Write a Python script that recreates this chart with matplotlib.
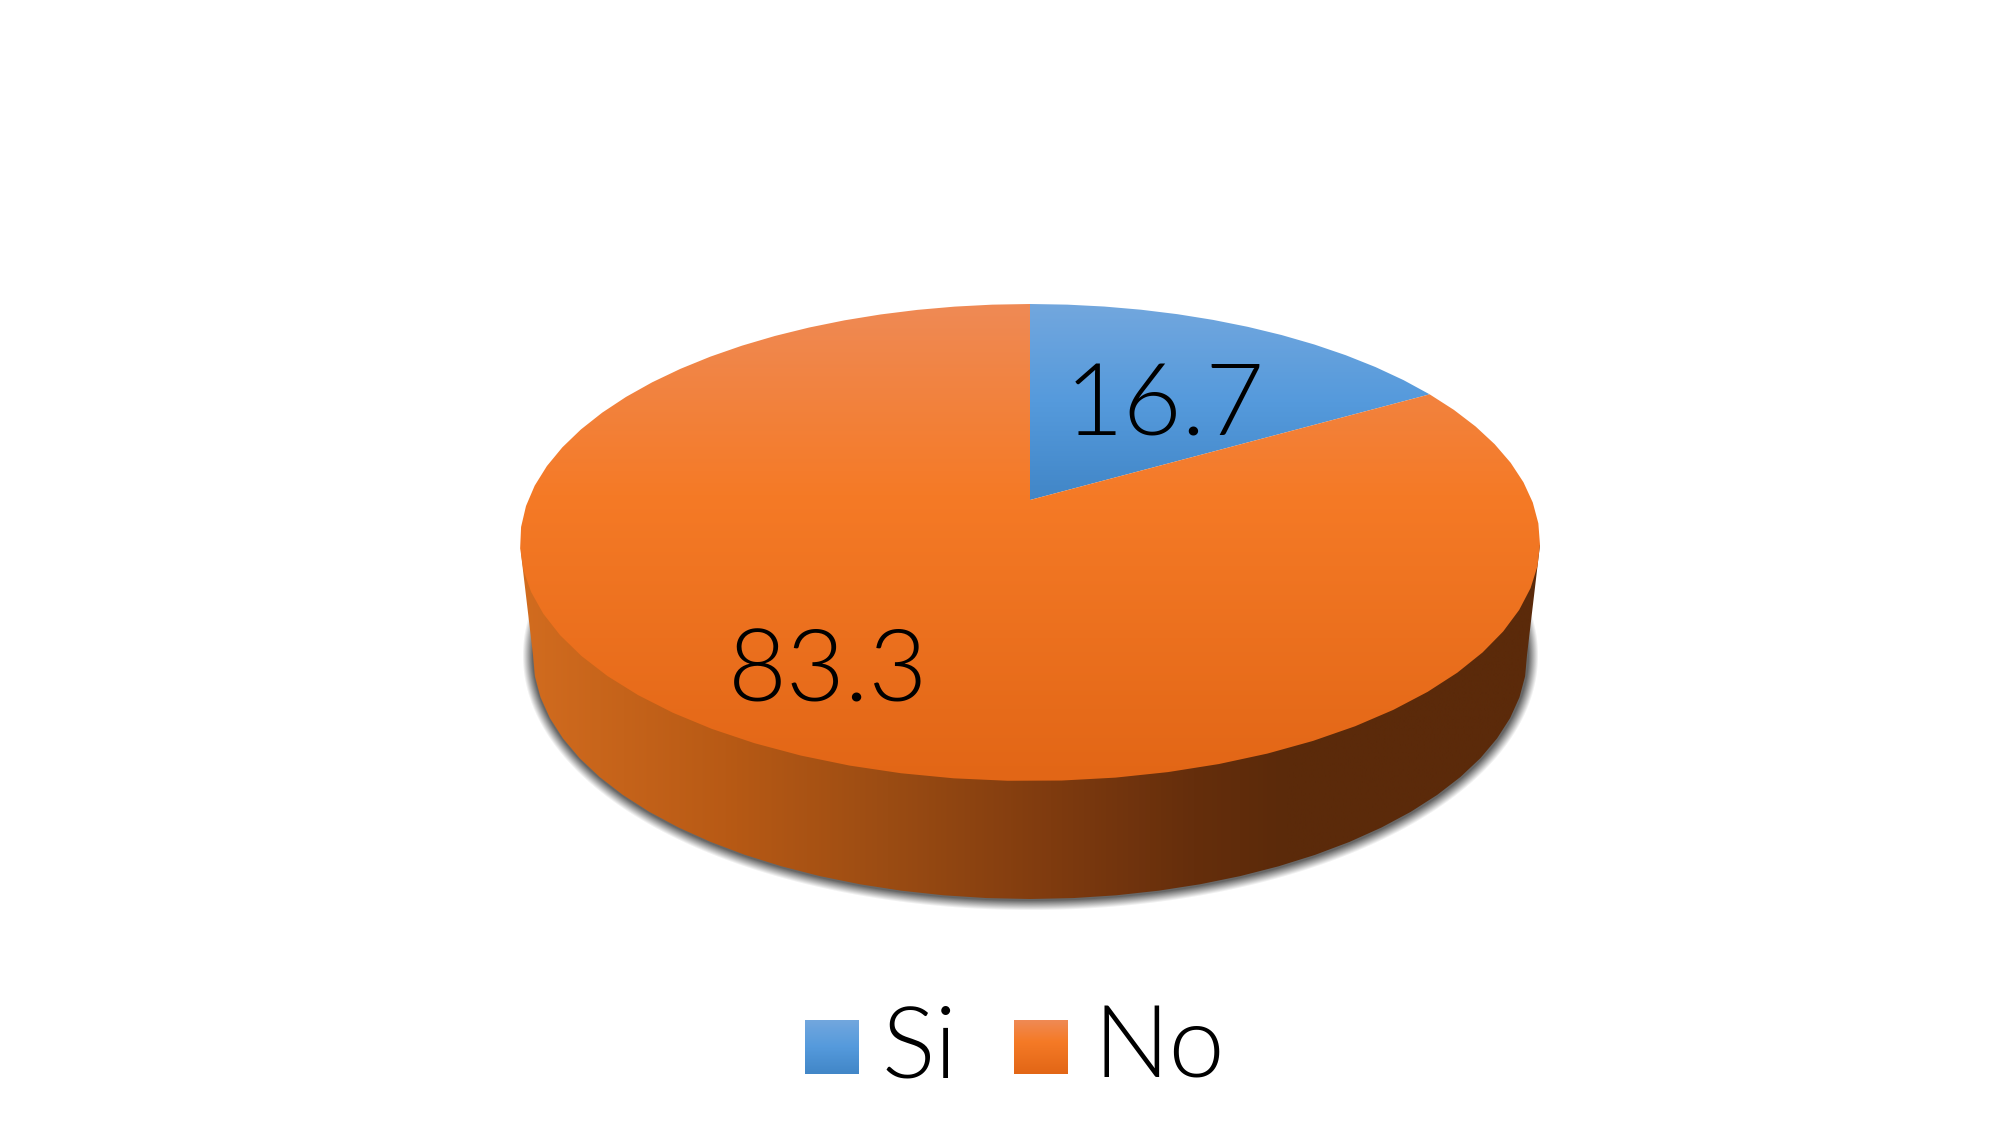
import numpy as np
import matplotlib
matplotlib.use("Agg")
import matplotlib.pyplot as plt
from matplotlib.colors import LinearSegmentedColormap
from matplotlib.patches import Polygon

categories = ["Si", "No"]
values = [16.7, 83.3]

plt.rcParams['font.family'] = ['Lato', 'DejaVu Sans']

# disc geometry in pixels, apex sits above the ellipse centre because of the perspective
cx, apex_y = 1030, 500
front, back = 281, 196
half_w = 510
k = (front - back) / (front + back)
b_p = front * (1 - k)
a_p = half_w * np.sqrt(1 - k ** 2)

# lower rim of the side wall
rim_y, rim_a, rim_b = 655, 497, 244


def disc_xy(angle):
    # angle runs clockwise from the top of the pie
    u, v = np.sin(angle), -np.cos(angle)
    w = 1 - k * v
    return cx + a_p * u / w, apex_y + b_p * v / w


def gradient(ax, stops, extent, clip, horizontal=False):
    cmap = LinearSegmentedColormap.from_list("g", stops, N=512)
    ramp = np.linspace(0, 1, 512)
    ramp = ramp.reshape(1, -1) if horizontal else ramp.reshape(-1, 1)
    im = ax.imshow(ramp, cmap=cmap, extent=extent, aspect='auto',
                   origin='lower' if horizontal else 'upper', interpolation='bilinear')
    if clip is not None:
        patch = Polygon(clip, closed=True, transform=ax.transData)
        im.set_clip_path(patch)
    return im


blue_stops = [(0, "#72A7DE"), (0.5, "#559ADC"), (1, "#4186C7")]
orange_stops = [(0, "#EF8A55"), (0.4, "#F57A26"), (1, "#E26616")]
side_stops = [(0, "#D26C1F"), (0.2, "#B85A15"), (0.36, "#9B4C13"),
              (0.52, "#7F3B0F"), (0.66, "#652E0C"), (0.75, "#5B2A0A"), (1, "#5B2A0A")]

fig = plt.figure(figsize=(20, 11.25), dpi=100)
ax = fig.add_axes([0, 0, 1, 1])

# soft shadow under the disc
xx, yy = np.meshgrid(np.arange(480, 1580), np.arange(560, 930))
dx, dy = (xx - cx) / rim_a, (yy - rim_y) / rim_b
d = np.hypot(dx, dy)
grad = np.hypot(dx / rim_a, dy / rim_b) / d
dist = (d - 1) / grad
alpha = 0.85 * np.clip(1 - (dist - 1) / 10, 0, 1)
alpha *= np.clip((yy - 590) / 30, 0, 1)
shadow = np.zeros(xx.shape + (4,))
shadow[..., :3] = 0.3
shadow[..., 3] = alpha
ax.imshow(shadow, extent=(480, 1580, 930, 560), aspect='auto', interpolation='bilinear')

# side wall
rim = np.linspace(0, np.pi, 37)
rim_pts = np.column_stack([cx + rim_a * np.cos(rim), rim_y + rim_b * np.sin(rim)])
side = np.vstack([[[cx + half_w, 545]], rim_pts, [[cx - half_w, 545]]])
gradient(ax, side_stops, (521, 1541, 920, 540), side, horizontal=True)

# top face, slices come from the values
total = sum(values)
edges = np.cumsum([0] + values) / total * 2 * np.pi
for i, stops in enumerate([blue_stops, orange_stops]):
    n = max(int((edges[i + 1] - edges[i]) / (2 * np.pi) * 72), 8)
    th = np.linspace(edges[i], edges[i + 1], n + 1)
    x, y = disc_xy(th)
    pts = np.vstack([[[cx, apex_y]], np.column_stack([x, y])])
    if i == 0:
        gradient(ax, stops, (cx, cx + half_w, apex_y, 304), pts)
    else:
        gradient(ax, stops, (cx - half_w, cx + half_w, 781, 304), pts)

# data labels
label_pos = [(1165, 436), (828, 701)]
for val, (lx, ly) in zip(values, label_pos):
    ax.text(lx, ly, f"{val:.1f}", fontsize=73, color='black', fontweight=300,
            ha='center', va='baseline')

# legend
swatch_x = [805, 1014]
text_x = [881, 1094]
for name, stops, sx, tx in zip(categories, [blue_stops, orange_stops], swatch_x, text_x):
    gradient(ax, stops, (sx, sx + 54, 1074, 1020), None)
    ax.text(tx, 1078, name, fontsize=72, color='black', fontweight=300,
            ha='left', va='baseline')

ax.set_xlim(0, 2000)
ax.set_ylim(1125, 0)
ax.axis('off')

fig.savefig("out.png", dpi=100, facecolor='white')
